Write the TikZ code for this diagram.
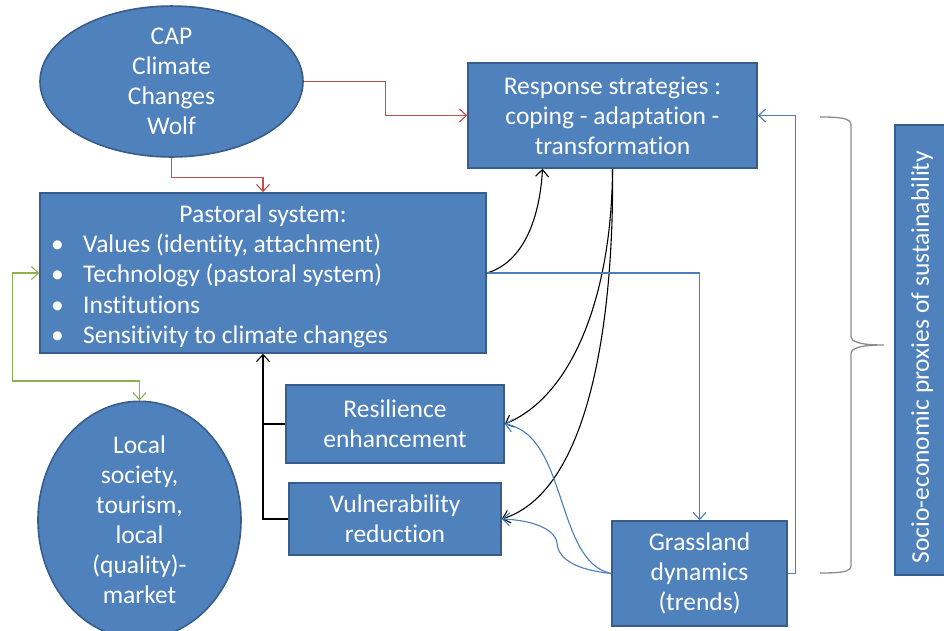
\documentclass[tikz,border=0pt]{standalone}
\usepackage{fontspec}
\setmainfont[Ligatures=NoCommon,Contextuals=NoAlternate]{Carlito}
\usetikzlibrary{arrows.meta,shapes.geometric,calc}
\definecolor{boxfill}{HTML}{4F81BD}
\definecolor{boxline}{HTML}{385D8A}
\definecolor{lblue}{HTML}{4A7EBB}
\definecolor{lred}{HTML}{C0504D}
\definecolor{lgreen}{HTML}{8EB04E}
\definecolor{bgray}{HTML}{8C8C8C}
\begin{document}
\begin{tikzpicture}[x=1pt,y=-1pt,
  txt/.style={font=\fontsize{25.5}{30}\selectfont, text=white},
  blk/.style={txt, draw=boxline, line width=1.6pt, fill=boxfill, align=center, inner sep=0pt},
  bul/.style={txt, anchor=base west, inner sep=0pt},
  tip/.style={-{Straight Barb[length=7pt,width=13pt]}},
  conn/.style={line width=1.1pt, tip},
  redc/.style={conn, draw=lred},
  bluec/.style={conn, draw=lblue},
  blackc/.style={conn, draw=black},
  plainblack/.style={line width=1.1pt, draw=black},
  greenc/.style={line width=1.1pt, draw=lgreen, {Straight Barb[length=7pt,width=13pt]}-{Straight Barb[length=7pt,width=13pt]}},
  bracestyle/.style={draw=bgray, line width=1.3pt}
]
\clip (0,0) rectangle (944,630);
\fill[white] (0,0) rectangle (944,630);

% nodes
\node[blk, ellipse, minimum width=263pt, minimum height=143pt] (cap) at (171.5,81.5) {CAP\\Climate\\Changes\\Wolf};
\node[blk, minimum width=289pt, minimum height=105pt] (resp) at (612.5,115.5) {Response strategies :\\coping - adaptation -\\transformation};
\node[blk, minimum width=446pt, minimum height=160pt] (past) at (263,273) {};
\node[txt, anchor=base, inner sep=0pt] (ptitle) at (263,222) {Pastoral system:};
\node[bul] (b1) at (51,252) {\textbullet};
\node[bul] (l1) at (83,252) {Values (identity, attachment)};
\node[bul] (b2) at (51,282.5) {\textbullet};
\node[bul] (l2) at (83,282.5) {Technology (pastoral system)};
\node[bul] (b3) at (51,313) {\textbullet};
\node[bul] (l3) at (83,313) {Institutions};
\node[bul] (b4) at (51,343) {\textbullet};
\node[bul] (l4) at (83,343) {Sensitivity to climate changes};
\node[blk, minimum width=218pt, minimum height=78pt] (resil) at (395,424) {Resilience\\enhancement};
\node[blk, minimum width=212pt, minimum height=72pt] (vuln) at (395,519) {Vulnerability\\reduction};
\node[blk, minimum width=175pt, minimum height=105pt] (grass) at (699.5,573.5) {Grassland\\dynamics\\(trends)};
\node[blk, ellipse, minimum width=203pt, minimum height=224pt] (local) at (139.5,520) {Local\\society,\\tourism,\\local\\(quality)-\\market};
\node[blk, minimum width=60pt, minimum height=450pt] (socio) at (925,350) {};
\node[txt, rotate=90, inner sep=0pt] (sociotext) at (922,357) {Socio-economic proxies of sustainability};

% brace
\coordinate (brtop) at (820,117);
\coordinate (brtip) at (884,345);
\coordinate (brbot) at (820,573);
\draw[bracestyle] (brtop) .. controls (840,117) and (851,118) .. (851,125)
  -- (851,336) .. controls (851,342) and (860,345) .. (brtip)
  .. controls (860,345) and (851,348) .. (851,354)
  -- (851,566) .. controls (851,572) and (840,573) .. (brbot);

% red connectors
\draw[redc] (cap.east) -- ++(82,0) |- (resp.west);
\draw[redc] (cap.south) -- ++(0,20) -| (past.north);

% black connectors
\draw[blackc] (past.east) .. controls (525,262) and (540,215) .. ([xshift=-70pt]resp.south);
\draw[blackc] (resp.south) .. controls (612,290) and (575,395) .. (resil.east);
\draw[blackc] (resp.south) .. controls (614,300) and (595,490) .. (vuln.east);
\draw[blackc] (resil.west) -| (past.south);
\draw[plainblack] (vuln.west) -| (past.south |- resil.west);

% blue connectors
\draw[bluec] (past.east) -| (grass.north);
\draw[bluec] (grass.east) -- ++(8,0) |- (resp.east);
\draw[bluec] (grass.west) .. controls (555,562) and (568,435) .. (resil.east);
\draw[bluec] (grass.west) .. controls (578,570) and (558,560) .. (557,543)
  .. controls (555,528) and (530,520) .. (vuln.east);

% green connector
\draw[greenc] (past.west) -- ++(-27,0) -- ++(0,108) -| (local.north);
\end{tikzpicture}
\end{document}
